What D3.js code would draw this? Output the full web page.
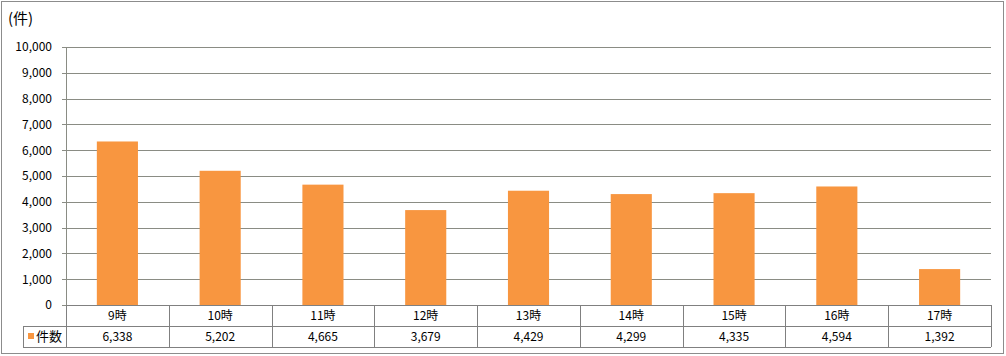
<!DOCTYPE html>
<html>
<head>
<meta charset="utf-8">
<script src="https://cdn.jsdelivr.net/npm/d3@7"></script>
<style>
  body { margin: 0; background: #fff; }
  text { font-family: "Noto Sans CJK JP", "DejaVu Sans", sans-serif; font-size: 12px; fill: #000; }
</style>
</head>
<body>
<div id="chart"></div>
<script>
var hours = ["9時", "10時", "11時", "12時", "13時", "14時", "15時", "16時", "17時"];
var counts = [6338, 5202, 4665, 3679, 4429, 4299, 4335, 4594, 1392];
var yTicks = [0, 1000, 2000, 3000, 4000, 5000, 6000, 7000, 8000, 9000, 10000];
var seriesName = "件数";
var unitLabel = "(件)";

var svgWidth = 1006;
var svgHeight = 356;

var margin = { top: 47, right: 15, bottom: 51, left: 66 };
var width = 991 - margin.left;
var height = 305 - margin.top;
var rowH = 21;

var svg = d3.select("#chart")
  .append("svg")
  .attr("width", svgWidth)
  .attr("height", svgHeight);

// outer frame
svg.append("rect")
  .attr("x", 1.5).attr("y", 1.5)
  .attr("width", 1002).attr("height", 352)
  .attr("fill", "none")
  .attr("stroke", "#8c8c8c");

var plot = svg.append("g")
  .attr("transform", `translate(${margin.left}, ${margin.top})`);

var x = d3.scaleBand()
  .domain(hours)
  .range([0, width])
  .paddingInner(0.6)
  .paddingOuter(0.3);

var xCell = d3.scaleBand()
  .domain(hours)
  .range([0, width]);

var y = d3.scaleLinear()
  .domain([0, 10000])
  .range([height, 0]);

// gridlines
plot.selectAll(".grid")
  .data(yTicks)
  .enter()
  .append("line")
  .attr("x1", -4)
  .attr("x2", width)
  .attr("y1", d => Math.round(y(d)) + 0.5)
  .attr("y2", d => Math.round(y(d)) + 0.5)
  .attr("stroke", "#8a8c84");

// y axis
var yAxis = d3.axisLeft(y)
  .tickValues(yTicks)
  .tickFormat(d3.format(","))
  .tickSize(0)
  .tickPadding(14);

var gy = plot.append("g").call(yAxis);
gy.select(".domain").remove();
gy.selectAll("text").style("font-size", "12px");

plot.append("line")
  .attr("x1", 0.5).attr("x2", 0.5)
  .attr("y1", 0).attr("y2", height)
  .attr("stroke", "#8a8c84");

// bars
plot.selectAll(".bar")
  .data(counts)
  .enter()
  .append("rect")
  .attr("x", (d, i) => x(hours[i]))
  .attr("y", d => y(d))
  .attr("width", x.bandwidth())
  .attr("height", d => height - y(d))
  .attr("fill", "#f89640");

// data table
var table = plot.append("g").attr("transform", `translate(0, ${height})`);

table.append("line")
  .attr("x1", 0).attr("x2", width)
  .attr("y1", 0.5).attr("y2", 0.5)
  .attr("stroke", "#808080");
table.append("line")
  .attr("x1", -43).attr("x2", width)
  .attr("y1", rowH + 0.5).attr("y2", rowH + 0.5)
  .attr("stroke", "#808080");
table.append("line")
  .attr("x1", -43).attr("x2", width)
  .attr("y1", rowH * 2 + 0.5).attr("y2", rowH * 2 + 0.5)
  .attr("stroke", "#808080");

table.selectAll(".vline")
  .data(hours)
  .enter()
  .append("line")
  .attr("x1", d => Math.round(xCell(d)) + 0.5)
  .attr("x2", d => Math.round(xCell(d)) + 0.5)
  .attr("y1", 0).attr("y2", rowH * 2)
  .attr("stroke", "#808080");
table.append("line")
  .attr("x1", width + 0.5).attr("x2", width + 0.5)
  .attr("y1", 0).attr("y2", rowH * 2)
  .attr("stroke", "#808080");
table.append("line")
  .attr("x1", -42.5).attr("x2", -42.5)
  .attr("y1", rowH).attr("y2", rowH * 2)
  .attr("stroke", "#808080");

table.selectAll(".cat")
  .data(hours)
  .enter()
  .append("text")
  .attr("x", d => xCell(d) + xCell.bandwidth() / 2)
  .attr("y", rowH / 2)
  .attr("dy", ".35em")
  .attr("text-anchor", "middle")
  .text(d => d);

table.selectAll(".val")
  .data(counts)
  .enter()
  .append("text")
  .attr("x", (d, i) => xCell(hours[i]) + xCell.bandwidth() / 2)
  .attr("y", rowH * 1.5)
  .attr("dy", ".35em")
  .attr("text-anchor", "middle")
  .text(d => d3.format(",")(d));

// legend key in table
table.append("rect")
  .attr("x", -38).attr("y", rowH + 7)
  .attr("width", 6).attr("height", 6)
  .attr("fill", "#f89640");
table.append("text")
  .attr("x", -30)
  .attr("y", rowH * 1.5)
  .attr("dy", ".35em")
  .style("font-size", "13px")
  .text(seriesName);

// unit label
svg.append("text")
  .attr("x", 8)
  .attr("y", 24)
  .style("font-size", "15px")
  .text(unitLabel);
</script>
</body>
</html>
